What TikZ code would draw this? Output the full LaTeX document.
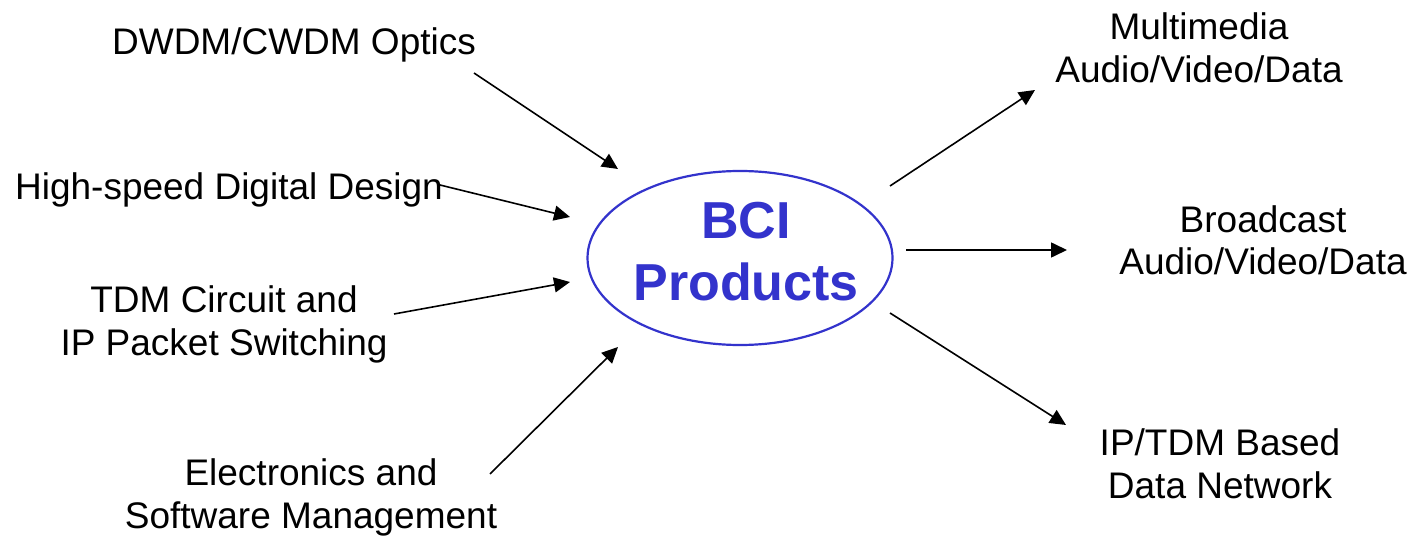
\documentclass[tikz,border=0pt]{standalone}
\usepackage{fontspec}
\setmainfont{Liberation Sans}
\usetikzlibrary{arrows.meta,shapes.geometric}
\definecolor{bciblue}{RGB}{51,51,204}
\begin{document}
\begin{tikzpicture}[x=1pt,y=-1pt,
  lbl/.style={anchor=base,align=center,inner sep=0pt,
    font=\fontsize{37}{43}\selectfont},
  conn/.style={line width=1.6pt,-{Triangle[length=16pt,width=15pt]}}]
\useasboundingbox (0,0) rectangle (1410,537);
\fill[white] (0,0) rectangle (1410,537);
% centre
\node[ellipse,draw=bciblue,line width=2.2pt,minimum width=305pt,minimum height=174pt,inner sep=0pt] (bci) at (740,258) {};
\node[anchor=base,align=center,inner sep=0pt,text=bciblue,font=\fontsize{52}{62}\selectfont\bfseries] (bcitext) at (746,300) {BCI\\Products};
% left labels
\node[lbl] (dwdm) at (294,55) {DWDM/CWDM Optics};
\node[lbl] (hsdd) at (229,200) {High-speed Digital Design};
\node[lbl] (tdm) at (224,355) {TDM Circuit and\\IP Packet Switching};
\node[lbl] (elec) at (311,528) {Electronics and\\Software Management};
% right labels
\node[lbl] (mm) at (1199,83) {Multimedia\\Audio/Video/Data};
\node[lbl] (bc) at (1263,275) {Broadcast\\Audio/Video/Data};
\node[lbl] (ip) at (1220,498) {IP/TDM Based\\Data Network};
% connector end points
\coordinate (s1) at (474,73);  \coordinate (e1) at (618,169);
\coordinate (s2) at (440,185); \coordinate (e2) at (570,217);
\coordinate (s3) at (394,314); \coordinate (e3) at (570,282);
\coordinate (s4) at (490,474); \coordinate (e4) at (618,347);
\coordinate (s5) at (890,186); \coordinate (e5) at (1035,90);
\coordinate (s6) at (906,250); \coordinate (e6) at (1067,250);
\coordinate (s7) at (890,313); \coordinate (e7) at (1066,425);
\draw[conn] (s1) -- (e1);
\draw[conn] (s2) -- (e2);
\draw[conn] (s3) -- (e3);
\draw[conn] (s4) -- (e4);
\draw[conn] (s5) -- (e5);
\draw[conn] (s6) -- (e6);
\draw[conn] (s7) -- (e7);
\end{tikzpicture}
\end{document}
